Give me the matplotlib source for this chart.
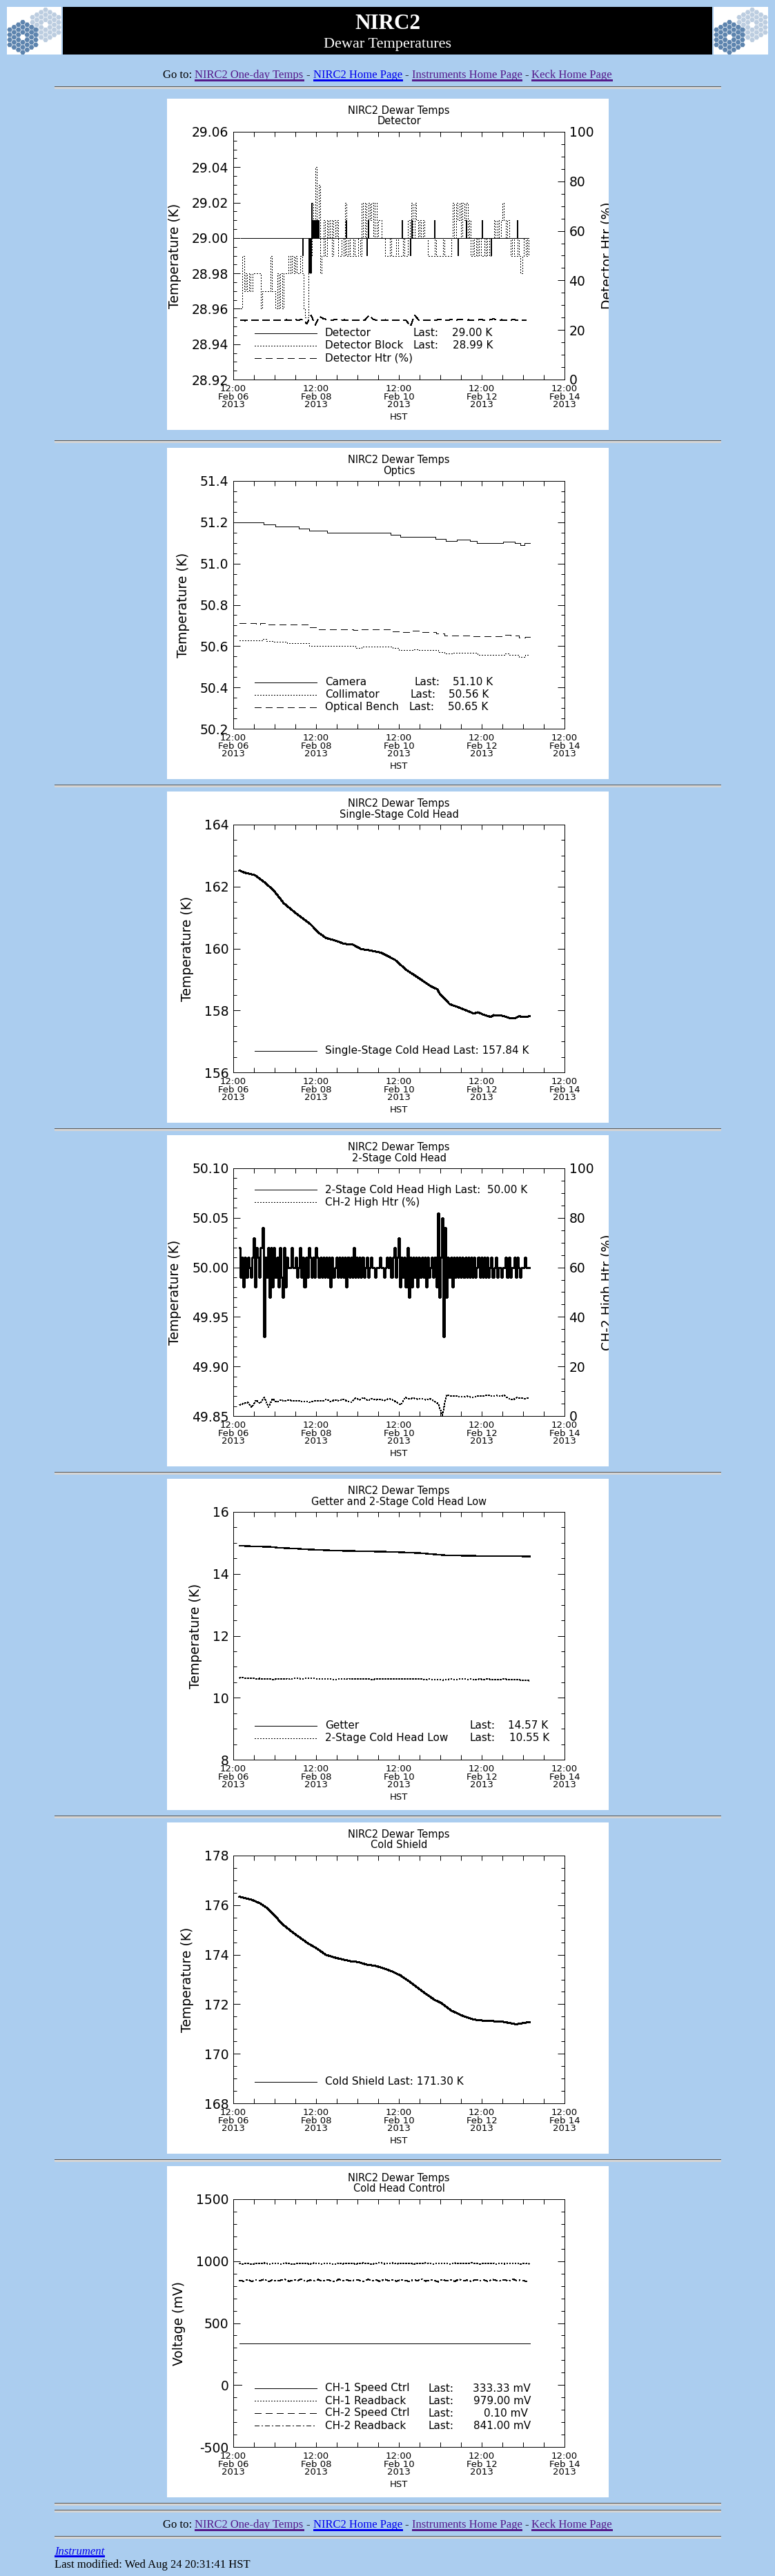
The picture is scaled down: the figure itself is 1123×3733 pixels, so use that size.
import numpy as np
import matplotlib
matplotlib.use('Agg')
import matplotlib.pyplot as plt
from matplotlib.patches import Rectangle, RegularPolygon
from matplotlib.ticker import MultipleLocator, FormatStrFormatter

W, H, DPI = 1123, 3733, 100
BG = '#abcdef'
PURPLE = '#551a8b'
BLUE = '#0000ee'

plt.rcParams['font.family'] = 'DejaVu Sans'
plt.rcParams['lines.scale_dashes'] = False
plt.rcParams['lines.antialiased'] = False

# ---------------- data: time in days since 12:00 Feb 06 2013 HST ----------------
x_ticks = [0, 2, 4, 6, 8]
x_dates = ['Feb 06', 'Feb 08', 'Feb 10', 'Feb 12', 'Feb 14']

# Detector
det_span = [0.18, 7.14]
det_base = 29.00
det_spike_t = [1.68, 1.84, 1.86, 1.88, 1.90, 1.92, 1.94, 1.96, 1.98, 2.00, 2.02, 2.04, 2.06,
               2.74, 3.23, 3.27, 4.09, 4.29, 4.32, 4.86, 5.43, 5.64, 6.01, 6.23, 6.87]
det_spike_v = [28.99, 28.98, 28.98, 28.98, 29.02, 29.01, 29.01, 29.01, 29.01, 29.01, 29.01, 29.01, 29.01,
               29.01, 28.99, 29.01, 29.01, 28.99, 29.01, 29.01, 28.99, 29.01, 29.01, 28.99, 29.01]
det_blk_t0, det_blk_dt = 0.18, 0.04
det_blk = [28.96, 28.99, 28.97, 28.98, 28.97, 28.98, 28.97, 28.98, 28.98, 28.98,
           28.98, 28.98, 28.96, 28.97, 28.97, 28.97, 28.97, 28.97, 28.99, 28.97,
           28.97, 28.96, 28.98, 28.96, 28.98, 28.96, 28.98, 28.98, 28.98, 28.99,
           28.98, 28.99, 28.98, 28.99, 28.98, 28.98, 28.99, 28.98, 28.96, 28.955,
           28.955, 28.98, 28.99, 29.02, 29.00, 29.04, 29.01, 29.03, 28.98, 28.99,
           29.01, 28.99, 29.01, 29.00, 29.01, 28.99, 29.01, 29.00, 29.01, 28.99,
           28.99, 29.00, 28.99, 29.02, 28.99, 29.00, 28.99, 28.99, 29.00, 28.99,
           28.99, 29.00, 28.99, 29.02, 29.00, 29.02, 29.00, 29.02, 29.01, 29.02,
           29.00, 29.02, 29.00, 29.01, 29.01, 29.00, 29.00, 28.99, 28.99, 28.99,
           29.00, 28.99, 28.99, 28.99, 29.00, 28.99, 28.99, 28.99, 29.00, 28.99,
           28.99, 29.01, 29.00, 29.02, 29.00, 29.02, 29.01, 29.00, 29.01, 29.00,
           29.01, 29.00, 29.00, 28.99, 28.99, 28.99, 28.99, 29.00, 28.99, 28.99,
           28.99, 28.99, 29.00, 28.99, 28.99, 28.99, 28.99, 29.00, 29.02, 29.00,
           29.02, 29.01, 29.02, 29.00, 29.02, 29.01, 29.02, 29.00, 29.01, 28.99,
           29.00, 28.99, 29.00, 28.99, 29.00, 28.99, 28.99, 29.00, 28.99, 29.00,
           28.99, 29.00, 29.00, 29.01, 29.00, 29.01, 29.00, 29.01, 29.02, 29.01,
           29.00, 29.01, 29.00, 28.99, 29.00, 28.99, 28.99, 29.00, 28.99, 28.98,
           28.99, 29.00, 28.99, 29.00, 28.99]
det_htr_t0, det_htr_dt = 0.18, 0.1
det_htr = [24.0, 23.8, 24.0, 24.0, 23.9, 24.0, 24.0, 24.1, 24.0, 24.0,
           24.0, 24.1, 24.0, 24.2, 24.0, 24.3, 22.5, 26.0, 22.0, 25.5,
           24.5, 24.2, 24.0, 24.2, 24.0, 24.1, 24.0, 23.9, 24.0, 24.1,
           24.0, 26.0, 24.2, 24.0, 24.0, 24.1, 23.8, 24.0, 24.0, 24.0,
           23.8, 21.5, 26.0, 24.0, 24.1, 24.0, 23.9, 24.0, 24.2, 24.0,
           24.0, 24.2, 24.0, 24.3, 24.0, 24.1, 24.0, 24.0, 24.2, 24.0,
           24.0, 24.5, 24.0, 24.1, 24.0, 24.0, 24.2, 23.9, 24.0, 24.0]

# Optics
cam_t = [0.15, 0.74, 1.01, 1.59, 1.84, 2.27, 3.80, 4.03, 4.89, 5.13, 5.40, 5.71, 5.88, 6.52, 6.80, 6.93, 7.03, 7.16]
cam_v = [51.20, 51.19, 51.18, 51.17, 51.16, 51.15, 51.14, 51.13, 51.12, 51.11, 51.115, 51.11, 51.10,
         51.105, 51.10, 51.09, 51.10, 51.10]
col_t = [0.15, 0.70, 0.80, 0.95, 1.30, 1.84, 2.95, 3.10, 3.85, 4.00, 4.35, 4.45, 4.95, 5.10, 5.30,
         5.90, 6.55, 6.65, 6.90, 7.05, 7.16]
col_v = [50.627, 50.633, 50.625, 50.620, 50.615, 50.600, 50.590, 50.597, 50.590, 50.580, 50.585,
         50.580, 50.570, 50.563, 50.568, 50.558, 50.563, 50.558, 50.548, 50.556, 50.556]
ben_t = [0.15, 0.55, 0.65, 0.80, 1.20, 1.80, 2.00, 2.90, 3.10, 3.80, 4.10, 4.30, 4.50, 4.90, 5.10,
         5.80, 6.50, 6.70, 6.90, 7.05, 7.16]
ben_v = [50.712, 50.705, 50.712, 50.705, 50.705, 50.690, 50.683, 50.678, 50.682, 50.670, 50.668,
         50.675, 50.668, 50.660, 50.652, 50.648, 50.653, 50.650, 50.640, 50.645, 50.645]

# Single-stage cold head
ss_t = [0.15, 0.27, 0.52, 0.78, 0.98, 1.22, 1.52, 1.86, 2.07, 2.24, 2.48, 2.68, 2.88, 3.09, 3.29,
        3.56, 3.90, 4.18, 4.52, 4.76, 4.93, 4.99, 5.23, 5.40, 5.61, 5.81, 5.91, 6.05, 6.22, 6.29,
        6.49, 6.69, 6.80, 6.90, 7.03, 7.16]
ss_v = [162.52, 162.45, 162.37, 162.11, 161.87, 161.46, 161.13, 160.79, 160.50, 160.34, 160.25,
        160.15, 160.13, 159.98, 159.94, 159.87, 159.64, 159.31, 159.01, 158.79, 158.68, 158.53,
        158.20, 158.12, 158.01, 157.90, 157.94, 157.86, 157.79, 157.85, 157.83, 157.75, 157.74,
        157.81, 157.79, 157.81]

# 2-stage cold head high
ch2_t0, ch2_dt = 0.15, 0.035
ch2_high = [50.02, 49.99, 50.01, 49.98, 50.01, 49.99, 50.01, 50.00, 49.99, 50.01,
            50.03, 49.98, 50.02, 50.01, 49.99, 50.02, 50.04, 49.93, 50.01, 49.99,
            50.02, 49.97, 50.02, 49.98, 50.02, 49.99, 50.01, 49.98, 50.02, 49.99,
            49.97, 50.02, 49.98, 50.01, 50.00, 50.00, 50.02, 50.00, 50.00, 50.01,
            49.99, 50.00, 50.02, 49.99, 50.01, 49.98, 50.01, 49.99, 50.02, 50.01,
            49.99, 50.01, 49.99, 50.02, 50.01, 49.99, 50.01, 49.99, 50.01, 49.99,
            50.01, 49.99, 50.01, 49.98, 50.01, 49.99, 50.00, 50.01, 49.99, 50.01,
            49.99, 50.01, 49.99, 50.01, 49.98, 50.01, 49.99, 50.01, 49.99, 50.02,
            49.99, 50.01, 49.99, 50.01, 49.99, 50.01, 49.99, 50.00, 50.01, 49.99,
            50.00, 50.01, 50.00, 50.00, 49.99, 50.00, 50.00, 50.01, 50.00, 50.00,
            49.99, 50.00, 50.01, 50.00, 50.01, 49.99, 50.01, 50.02, 49.99, 50.01,
            50.03, 49.98, 50.01, 49.99, 50.01, 49.98, 50.02, 49.97, 50.01, 49.98,
            50.01, 49.99, 50.01, 49.98, 50.01, 49.99, 50.01, 49.99, 50.01, 49.98,
            50.01, 49.99, 50.00, 50.01, 49.99, 50.01, 49.98, 50.055, 49.97, 50.01,
            50.05, 49.93, 50.04, 49.97, 50.01, 49.99, 50.01, 49.98, 50.01, 49.99,
            50.01, 49.99, 50.01, 49.99, 50.01, 49.99, 50.01, 49.99, 50.01, 49.99,
            50.01, 49.99, 50.01, 49.99, 50.00, 50.01, 49.99, 50.01, 49.99, 50.01,
            49.99, 50.01, 49.99, 50.00, 50.01, 49.99, 50.00, 50.01, 49.99, 50.00,
            50.00, 49.99, 50.00, 50.00, 50.01, 49.99, 50.01, 49.99, 50.00, 50.00,
            50.01, 49.99, 50.01, 50.00, 49.99, 50.00, 50.00, 50.01, 50.00, 50.00,
            50.00]
ch2_htr_t0, ch2_htr_dt = 0.15, 0.1
ch2_htr = [4.5, 5.0, 5.5, 3.5, 6.5, 5.0, 7.5, 3.5, 7.0, 5.5,
           6.5, 6.0, 6.5, 6.0, 6.2, 5.8, 6.0, 5.5, 6.0, 6.2,
           6.0, 6.8, 5.8, 6.5, 6.2, 6.8, 6.0, 5.5, 7.2, 6.5,
           7.5, 6.2, 7.0, 6.5, 6.8, 6.2, 7.0, 6.5, 5.5, 4.5,
           7.5, 7.0, 7.2, 6.8, 7.0, 6.5, 7.0, 6.0, 5.0, 0.3,
           8.5, 8.0, 8.2, 7.8, 7.8, 8.0, 7.5, 7.8, 8.2, 8.0,
           8.5, 8.0, 8.3, 8.0, 8.4, 7.0, 6.5, 7.5, 7.2, 7.0,
           7.5]

# Getter and 2-stage cold head low
get_t = [0.15, 0.44, 0.91, 1.12, 1.46, 1.80, 2.48, 3.16, 3.84, 4.18, 4.52, 4.86, 5.13, 5.47, 5.88,
         6.56, 6.90, 7.16]
get_v = [14.91, 14.89, 14.87, 14.84, 14.82, 14.79, 14.75, 14.73, 14.71, 14.69, 14.67, 14.63, 14.60,
         14.59, 14.58, 14.58, 14.57, 14.56]
low_t0, low_dt = 0.15, 0.1
low_v = [10.64, 10.65, 10.62, 10.63, 10.61, 10.62, 10.60, 10.61, 10.59, 10.60,
         10.61, 10.62, 10.60, 10.62, 10.63, 10.61, 10.62, 10.63, 10.62, 10.61,
         10.60, 10.62, 10.60, 10.59, 10.60, 10.61, 10.60, 10.62, 10.60, 10.61,
         10.60, 10.61, 10.59, 10.60, 10.61, 10.60, 10.60, 10.61, 10.60, 10.62,
         10.60, 10.61, 10.60, 10.61, 10.60, 10.59, 10.60, 10.58, 10.59, 10.57,
         10.59, 10.60, 10.59, 10.60, 10.61, 10.59, 10.60, 10.58, 10.60, 10.59,
         10.60, 10.59, 10.58, 10.59, 10.60, 10.59, 10.58, 10.59, 10.57, 10.56,
         10.55]

# Cold shield
cs_t = [0.15, 0.44, 0.64, 0.81, 0.98, 1.18, 1.46, 1.80, 2.00, 2.24, 2.48, 2.82, 3.02, 3.22, 3.43,
        3.63, 3.84, 4.04, 4.24, 4.45, 4.65, 4.86, 5.03, 5.27, 5.54, 5.81, 6.08, 6.49, 6.83, 7.00, 7.16]
cs_v = [176.34, 176.22, 176.08, 175.89, 175.62, 175.24, 174.87, 174.46, 174.27, 173.99, 173.87,
        173.74, 173.70, 173.60, 173.55, 173.45, 173.32, 173.16, 172.93, 172.67, 172.42, 172.18,
        172.04, 171.74, 171.53, 171.38, 171.33, 171.30, 171.19, 171.24, 171.28]

# Cold head control
sp1_t = [0.15, 7.16]
sp1_v = [333.33, 333.33]
sp2_t = [0.15, 0.20]
sp2_v = [0.10, 0.10]
rb_t0, rb_dt = 0.15, 0.1
rb1_v = [980, 978, 984, 976, 982, 979, 985, 977, 981, 983,
         978, 986, 980, 976, 984, 979, 982, 977, 985, 980,
         978, 983, 981, 976, 985, 979, 982, 984, 978, 981,
         986, 980, 977, 983, 988, 979, 981, 985, 978, 982,
         980, 984, 977, 983, 979, 986, 981, 978, 984, 980,
         982, 977, 985, 980, 983, 979, 986, 981, 978, 983,
         980, 985, 977, 982, 979, 984, 980, 983, 978, 981,
         979]
rb2_v = [845, 838, 852, 836, 848, 842, 855, 834, 850, 840,
         846, 853, 837, 849, 843, 856, 835, 847, 841, 852,
         838, 850, 844, 836, 854, 842, 848, 839, 851, 845,
         837, 853, 843, 849, 835, 855, 841, 847, 838, 852,
         844, 836, 850, 842, 856, 839, 848, 845, 834, 853,
         840, 849, 837, 854, 843, 846, 838, 851, 842, 848,
         836, 853, 845, 840, 850, 838, 855, 843, 847, 839,
         841]

# ---------------- page ----------------
panel_tops = [143, 649, 1147, 1645, 2143, 2641, 3139]
hr_ys = [126, 639, 1138, 1636, 2134, 2632, 3130, 3628, 3638, 3676]

SOLID = '-'
DOT = (0, (0.75, 1.5))
DASH = (0, (6.5, 5.0))
DASHDOT = (0, (5.0, 2.2, 1.0, 2.2))

fig = plt.figure(figsize=(W / DPI, H / DPI), dpi=DPI)
fig.patch.set_facecolor(BG)
bg = fig.add_axes([0, 0, 1, 1])
bg.set_xlim(0, W)
bg.set_ylim(H, 0)
bg.axis('off')

PX0 = 242
AX_L, AX_T, AX_W, AX_H = 96, 48, 480, 359
LW = 0.72


def t_axis(t0, dt, vals):
    return t0 + dt * np.arange(len(vals))


def panel(top, sub, ylim, ymaj, ymin, yfmt, ylabel, twin=None):
    rect = Rectangle((PX0, top), 640, 480, fc='white', ec='none')
    bg.add_patch(rect)
    bg.text(PX0 + 336, top + 18, 'NIRC2 Dewar Temps', ha='center', va='center', fontsize=10.5)
    bg.text(PX0 + 336, top + 33, sub, ha='center', va='center', fontsize=10.5)
    ax = fig.add_axes([(PX0 + AX_L) / W, 1 - (top + AX_T + AX_H) / H, AX_W / W, AX_H / H])
    ax.set_facecolor('white')
    ax.set_xlim(0, 8)
    ax.set_ylim(*ylim)
    ax.xaxis.set_major_locator(MultipleLocator(2))
    ax.xaxis.set_minor_locator(MultipleLocator(0.5))
    ax.yaxis.set_major_locator(MultipleLocator(ymaj))
    ax.yaxis.set_minor_locator(MultipleLocator(ymin))
    ax.yaxis.set_major_formatter(FormatStrFormatter(yfmt))
    ax.set_xticks(x_ticks)
    ax.set_xticklabels(['12:00\n%s\n2013' % d for d in x_dates], fontsize=9.5, linespacing=0.87)
    ax.tick_params(which='both', direction='in', top=True, right=twin is None, width=0.72, color='k')
    ax.tick_params(axis='x', which='both', length=5, pad=5)
    ax.tick_params(axis='y', which='major', length=7.2)
    ax.tick_params(axis='y', which='minor', length=3.6)
    ax.tick_params(axis='y', labelsize=13.5, pad=4.7)
    ax.set_xlabel('HST', fontsize=9.5, labelpad=3)
    ax.set_ylabel(ylabel, fontsize=13.5, labelpad=10.5)
    for s in ax.spines.values():
        s.set_linewidth(0.72)
    ax2 = None
    if twin is not None:
        label, lx = twin
        ax2 = ax.twinx()
        ax2.set_ylim(0, 100)
        ax2.yaxis.set_major_locator(MultipleLocator(20))
        ax2.yaxis.set_minor_locator(MultipleLocator(5))
        ax2.yaxis.set_major_formatter(FormatStrFormatter('%d'))
        ax2.tick_params(which='both', direction='in', width=0.72)
        ax2.tick_params(which='major', length=7.2, labelsize=13.5, pad=4.7)
        ax2.tick_params(which='minor', length=3.6)
        for s in ax2.spines.values():
            s.set_linewidth(0.72)
        t = bg.text(PX0 + lx, top + AX_T + AX_H / 2, label, rotation=90, ha='center', va='center',
                    fontsize=13.5, clip_on=True)
        t.set_clip_path(rect)
    return ax, ax2


def legend_rows(ax, rows, first_y, step=18):
    for i, (style, pieces) in enumerate(rows):
        fy = 1 - (first_y + i * step) / AX_H
        ax.plot([30.5 / AX_W, 120.5 / AX_W], [fy, fy], transform=ax.transAxes, color='k',
                lw=LW, ls=style, clip_on=False)
        for x, s, ha in pieces:
            ax.text(x / AX_W, fy, s, transform=ax.transAxes, fontsize=11, ha=ha, va='center')


# 1 Detector
ax, ax2 = panel(panel_tops[0], 'Detector', (28.92, 29.06), 0.02, 0.005, '%.2f', 'Temperature (K)',
                twin=('Detector Htr (%)', 638))
ax.plot(det_span, [det_base, det_base], color='k', lw=LW)
ax.vlines(det_spike_t, det_base, det_spike_v, color='k', lw=1.4, antialiased=False)
ax.plot(t_axis(det_blk_t0, det_blk_dt, det_blk), det_blk, color='k', lw=LW, ls=DOT, drawstyle='steps-post')
ax2.plot(t_axis(det_htr_t0, det_htr_dt, det_htr), det_htr, color='k', lw=LW, ls=DASH)
legend_rows(ax, [(SOLID, [(133, 'Detector', 'left'), (260, 'Last:', 'left'), (317, '29.00 K', 'left')]),
                 (DOT, [(133, 'Detector Block', 'left'), (260, 'Last:', 'left'), (318, '28.99 K', 'left')]),
                 (DASH, [(133, 'Detector Htr (%)', 'left')])], 291.5)

# 2 Optics
ax, _ = panel(panel_tops[1], 'Optics', (50.2, 51.4), 0.2, 0.05, '%.1f', 'Temperature (K)')
ax.plot(cam_t, cam_v, color='k', lw=LW, drawstyle='steps-post')
ax.plot(col_t, col_v, color='k', lw=LW, ls=DOT, drawstyle='steps-post')
ax.plot(ben_t, ben_v, color='k', lw=LW, ls=DASH, drawstyle='steps-post')
legend_rows(ax, [(SOLID, [(133, 'Camera', 'left'), (263, 'Last:', 'left'), (318, '51.10 K', 'left')]),
                 (DOT, [(133, 'Collimator', 'left'), (257, 'Last:', 'left'), (312, '50.56 K', 'left')]),
                 (DASH, [(133, 'Optical Bench', 'left'), (255, 'Last:', 'left'), (311, '50.65 K', 'left')])],
            291.5)

# 3 Single-stage cold head
ax, _ = panel(panel_tops[2], 'Single-Stage Cold Head', (156, 164), 2, 0.5, '%d', 'Temperature (K)')
ax.plot(ss_t, ss_v, color='k', lw=1.44)
legend_rows(ax, [(SOLID, [(133, 'Single-Stage Cold Head Last: 157.84 K', 'left')])], 327.5)

# 4 2-stage cold head
ax, ax2 = panel(panel_tops[3], '2-Stage Cold Head', (49.85, 50.10), 0.05, 0.01, '%.2f', 'Temperature (K)',
                twin=('CH-2 High Htr (%)', 638.5))
ax.plot(t_axis(ch2_t0, ch2_dt, ch2_high), ch2_high, color='k', lw=1.0, drawstyle='steps-mid')
ax2.plot(t_axis(ch2_htr_t0, ch2_htr_dt, ch2_htr), ch2_htr, color='k', lw=LW, ls=DOT)
legend_rows(ax, [(SOLID, [(133, '2-Stage Cold Head High Last:  50.00 K', 'left')]),
                 (DOT, [(133, 'CH-2 High Htr (%)', 'left')])], 31)

# 5 Getter
ax, _ = panel(panel_tops[4], 'Getter and 2-Stage Cold Head Low', (8, 16), 2, 0.5, '%d', 'Temperature (K)')
ax.plot(get_t, get_v, color='k', lw=1.0)
ax.plot(t_axis(low_t0, low_dt, low_v), low_v, color='k', lw=LW, ls=DOT)
legend_rows(ax, [(SOLID, [(133, 'Getter', 'left'), (342, 'Last:', 'left'), (398, '14.57 K', 'left')]),
                 (DOT, [(133, '2-Stage Cold Head Low', 'left'), (343, 'Last:', 'left'), (400, '10.55 K', 'left')])],
            309.5)

# 6 Cold shield
ax, _ = panel(panel_tops[5], 'Cold Shield', (168, 178), 2, 0.5, '%d', 'Temperature (K)')
ax.plot(cs_t, cs_v, color='k', lw=1.44)
legend_rows(ax, [(SOLID, [(133, 'Cold Shield Last: 171.30 K', 'left')])], 327.5)

# 7 Cold head control
ax, _ = panel(panel_tops[6], 'Cold Head Control', (-500, 1500), 500, 100, '%d', 'Voltage (mV)')
ax.plot(sp1_t, sp1_v, color='k', lw=LW)
ax.plot(t_axis(rb_t0, rb_dt, rb1_v), rb1_v, color='k', lw=LW, ls=DOT)
ax.plot(sp2_t, sp2_v, color='k', lw=LW, ls=DASH)
ax.plot(t_axis(rb_t0, rb_dt, rb2_v), rb2_v, color='k', lw=1.0, ls=DASHDOT)
legend_rows(ax, [(SOLID, [(133, 'CH-1 Speed Ctrl', 'left'), (283, 'Last:', 'left'), (431, '333.33 mV', 'right')]),
                 (DOT, [(133, 'CH-1 Readback', 'left'), (283, 'Last:', 'left'), (431, '979.00 mV', 'right')]),
                 (DASH, [(133, 'CH-2 Speed Ctrl', 'left'), (283, 'Last:', 'left'), (427, '0.10 mV', 'right')]),
                 (DASHDOT, [(133, 'CH-2 Readback', 'left'), (283, 'Last:', 'left'), (431, '841.00 mV', 'right')])],
            274)

# ---------------- header / rules / footer ----------------
LOGO_DARK = '#5d84ae'
LOGO_LIGHT = '#bccde0'


def logo(x0):
    box = Rectangle((x0, 10), 79, 69, fc='white', ec='none')
    bg.add_patch(box)
    r = 4.2
    for cx, cy, col in [(x0 + 56, 36, LOGO_LIGHT), (x0 + 23, 54, LOGO_DARK)]:
        for q in range(-3, 4):
            for s in range(-3, 4):
                if max(abs(q), abs(s), abs(q + s)) > 3 or (q == 0 and s == 0):
                    continue
                hx = cx + 1.5 * r * q
                hy = cy + np.sqrt(3) * r * (s + q / 2)
                p = RegularPolygon((hx, hy), 6, radius=r * 0.9, orientation=np.pi / 6, fc=col, ec='none')
                bg.add_patch(p)
                p.set_clip_path(box)


logo(10)
logo(1034)
bg.add_patch(Rectangle((91, 10), 941, 69, fc='black', ec='none'))
bg.text(561.5, 41.7, 'NIRC2', color='white', fontsize=22.5, fontweight='bold',
        family='Liberation Serif', ha='center', va='baseline')
bg.text(561.5, 69.5, 'Dewar Temperatures', color='white', fontsize=16,
        family='Liberation Serif', ha='center', va='baseline')

for y in hr_ys:
    bg.plot([79, 1044], [y, y], color='#585858', lw=0.75, solid_capstyle='butt')
    bg.plot([79, 1044], [y + 1, y + 1], color='#d4d4d4', lw=0.75, solid_capstyle='butt')

renderer = fig.canvas.get_renderer()
SERIF = 'Liberation Serif'


def text_width(s, size, style='normal'):
    t = bg.text(0, 0, s, fontsize=size, family=SERIF, style=style)
    w = t.get_window_extent(renderer=renderer).width
    t.remove()
    return w


goto = [('Go to:', 'black', False), ('NIRC2 One-day Temps', PURPLE, True), ('-', 'black', False),
        ('NIRC2 Home Page', BLUE, True), ('-', 'black', False),
        ('Instruments Home Page', PURPLE, True), ('-', 'black', False), ('Keck Home Page', PURPLE, True)]

PAGE_FS = 12.0
space = text_width('a a', PAGE_FS) - text_width('aa', PAGE_FS)
widths = [text_width(s, PAGE_FS) for s, _, _ in goto]
total = sum(widths) + space * (len(goto) - 1)


def goto_line(y_base):
    x = 561.5 - total / 2
    for (s, col, ul), w in zip(goto, widths):
        bg.text(x, y_base, s, fontsize=PAGE_FS, family=SERIF, color=col, ha='left', va='baseline')
        if ul:
            bg.plot([x, x + w], [y_base + 2.2, y_base + 2.2], color=col, lw=0.75, solid_capstyle='butt')
        x += w + space


goto_line(113.3)
goto_line(3663.3)

wi = text_width('Instrument', PAGE_FS, 'italic')
bg.text(79, 3701.7, 'Instrument', fontsize=PAGE_FS, family=SERIF, style='italic', color=BLUE,
        ha='left', va='baseline')
bg.plot([79, 79 + wi], [3703.6, 3703.6], color=BLUE, lw=0.75, solid_capstyle='butt')
bg.text(79, 3721, 'Last modified: Wed Aug 24 20:31:41 HST', fontsize=PAGE_FS, family=SERIF,
        color='black', ha='left', va='baseline')

fig.savefig('out.png', dpi=DPI, facecolor=BG)
